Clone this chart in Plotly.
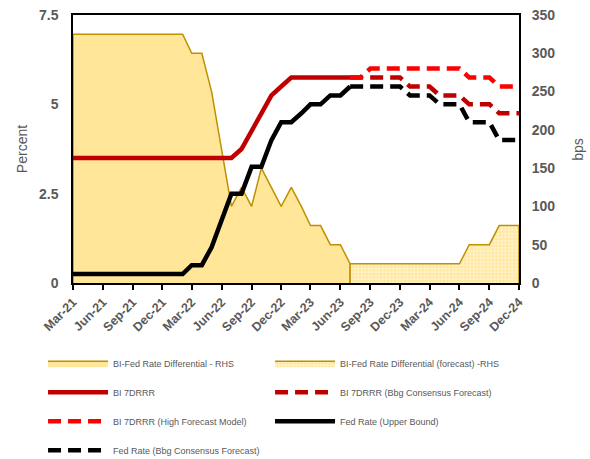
import pandas as pd
import plotly.graph_objects as go

# Monthly observations, Mar-21 .. Jul-23 (actual) and Jul-23 .. Dec-24 (forecast)
actual_months = pd.date_range("2021-03-01", "2023-07-01", freq="MS")
forecast_months = pd.date_range("2023-07-01", "2024-12-01", freq="MS")

# BI 7-day reverse repo rate, % (actual)
bi_rate = [3.5] * 17 + [3.75, 4.25, 4.75, 5.25, 5.5] + [5.75] * 7
# Fed funds target, upper bound, % (actual)
fed_rate = ([0.25] * 12 + [0.5, 0.5, 1.0, 1.75, 2.5, 2.5, 3.25, 3.25,
                           4.0, 4.5, 4.5, 4.75, 5.0, 5.0, 5.25, 5.25, 5.5])
# BI - Fed differential, bps (actual)
diff_bps = ([325] * 12 + [300, 300, 250, 175, 100, 125, 100, 150, 125,
                          100, 125, 100, 75, 75, 50, 50, 25])

# Forecast paths, %
bi_bbg = [5.75] * 6 + [5.5] * 3 + [5.25] * 3 + [5.0] * 3 + [4.75] * 3
bi_high = [5.75] * 2 + [6.0] * 10 + [5.75] * 3 + [5.5] * 3
fed_bbg = [5.5] * 6 + [5.25] * 3 + [5.0] * 3 + [4.5] * 3 + [4.0] * 3
# BI - Fed differential, bps (forecast)
diff_fc_bps = [25] * 12 + [50] * 3 + [75] * 3

tick_labels = ["Mar-21", "Jun-21", "Sep-21", "Dec-21", "Mar-22", "Jun-22",
               "Sep-22", "Dec-22", "Mar-23", "Jun-23", "Sep-23", "Dec-23",
               "Mar-24", "Jun-24", "Sep-24", "Dec-24"]
tick_dates = pd.date_range("2021-03-01", "2024-12-01", freq="3MS")

AREA_FILL = "#FFE699"
AREA_LINE = "#BF9000"
DARK_RED = "#C00000"
BRIGHT_RED = "#FF0000"
GREY = "#595959"
FONT = "Liberation Sans"
DASH = "13px,7px"


def closed(xs, ys):
    """Close an area outline down to the zero baseline at both ends."""
    xs = list(xs)
    return [xs[0]] + xs + [xs[-1]], [0] + list(ys) + [0]


fig = go.Figure()

ax, ay = closed(actual_months, diff_bps)
fig.add_trace(go.Scatter(
    x=ax, y=ay, mode="lines", fill="toself", fillcolor=AREA_FILL,
    line=dict(color=AREA_LINE, width=1.5), yaxis="y",
    name="BI-Fed Rate Differential - RHS",
    legend="legend", legendgroup="g1", legendrank=1))

fx, fy = closed(forecast_months, diff_fc_bps)
fig.add_trace(go.Scatter(
    x=fx, y=fy, mode="lines", fill="toself", fillcolor=AREA_FILL,
    fillpattern=dict(shape=".", bgcolor=AREA_FILL, fgcolor="white",
                     size=3.5, solidity=0.6),
    line=dict(color=AREA_LINE, width=1.5), yaxis="y",
    name="BI-Fed Rate Differential (forecast) -RHS",
    legend="legend2", legendgroup="g2", legendrank=1))

fig.add_trace(go.Scatter(
    x=actual_months, y=bi_rate, mode="lines", yaxis="y2",
    line=dict(color=DARK_RED, width=4.5),
    name="BI 7DRRR", legend="legend", legendgroup="g3", legendrank=2))

fig.add_trace(go.Scatter(
    x=actual_months, y=fed_rate, mode="lines", yaxis="y2",
    line=dict(color="black", width=4.5),
    name="Fed Rate (Upper Bound)", legend="legend2", legendgroup="g4",
    legendrank=3))

fig.add_trace(go.Scatter(
    x=forecast_months, y=bi_bbg, mode="lines", yaxis="y2",
    line=dict(color=DARK_RED, width=4.5, dash=DASH),
    name="BI 7DRRR (Bbg Consensus Forecast)", legend="legend2",
    legendgroup="g5", legendrank=2))

fig.add_trace(go.Scatter(
    x=forecast_months, y=bi_high, mode="lines", yaxis="y2",
    line=dict(color=BRIGHT_RED, width=4.5, dash=DASH),
    name="BI 7DRRR (High Forecast Model)", legend="legend",
    legendgroup="g6", legendrank=3))

fig.add_trace(go.Scatter(
    x=forecast_months, y=fed_bbg, mode="lines", yaxis="y2",
    line=dict(color="black", width=4.5, dash=DASH),
    name="Fed Rate (Bbg Consensus Forecast)", legend="legend",
    legendgroup="g7", legendrank=4))

legend_style = dict(
    xanchor="left", yanchor="top", orientation="v",
    xref="container", yref="container", y=0.240,
    font=dict(family=FONT, size=9, color=GREY),
    itemwidth=60, tracegroupgap=10, bgcolor="rgba(0,0,0,0)",
)

title_font = dict(family=FONT, size=14, color=GREY)

fig.update_layout(
    width=590, height=459,
    margin=dict(l=73, r=71, t=15, b=176, autoexpand=False),
    paper_bgcolor="white", plot_bgcolor="white",
    font=dict(family=FONT, color=GREY),
    xaxis=dict(
        type="date", range=[tick_dates[0], tick_dates[-1]],
        tickvals=tick_dates, ticktext=tick_labels, tickangle=-45,
        tickfont=dict(size=12.5, color=GREY, weight="bold"),
        ticks="outside", ticklen=5, tickwidth=1.5, tickcolor="black",
        showline=True, linecolor="black", linewidth=2, mirror=True,
        showgrid=False, zeroline=False,
    ),
    yaxis=dict(
        side="right", range=[0, 350], dtick=50,
        tickfont=dict(size=14, color=GREY, weight="bold"),
        ticklabelstandoff=8,
        showline=True, linecolor="black", linewidth=2,
        showgrid=False, zeroline=False, ticks="",
    ),
    yaxis2=dict(
        overlaying="y", side="left", range=[0, 7.5],
        tickvals=[0, 2.5, 5, 7.5], ticktext=["0", "2.5", "5", "7.5"],
        tickfont=dict(size=14, color=GREY, weight="bold"),
        ticklabelstandoff=10,
        showline=True, linecolor="black", linewidth=1.5,
        showgrid=False, zeroline=False, ticks="",
    ),
    legend=dict(x=46 / 590 - 0.005, **legend_style),
    legend2=dict(x=273 / 590 - 0.005, **legend_style),
    showlegend=True,
    annotations=[
        dict(text="Percent", xref="paper", yref="paper", x=-0.114, y=0.5,
             textangle=-90, showarrow=False, font=title_font,
             xanchor="center", yanchor="middle"),
        dict(text="bps", xref="paper", yref="paper", x=1.132, y=0.5,
             textangle=-90, showarrow=False, font=title_font,
             xanchor="center", yanchor="middle"),
    ],
)

fig.write_html("out.html")
